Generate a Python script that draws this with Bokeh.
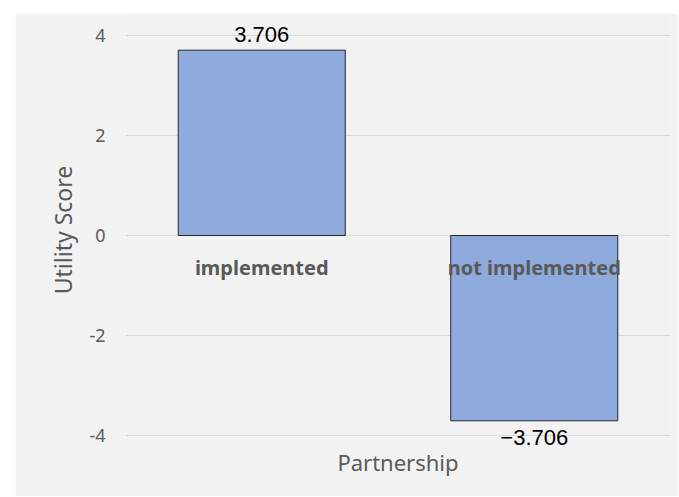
from bokeh.plotting import figure
from bokeh.models import ColumnDataSource, LabelSet, Range1d, FactorRange, FixedTicker
from bokeh.core.properties import value
from bokeh.embed import file_html
from bokeh.resources import INLINE

categories = ["implemented", "not implemented"]
utility = [3.706, -3.706]
value_labels = ["3.706", "\u22123.706"]
y_ticks = [-4, -2, 0, 2, 4]
y_tick_labels = ["-4", "-2", "0", "2", "4"]

GRAY = "#595959"
BG = "#f2f2f2"

p = figure(
    x_range=FactorRange(*categories),
    y_range=Range1d(-4.22, 4.44),
    width=663, height=483,
    output_backend="svg", toolbar_location=None,
    min_border_left=110, min_border_right=8,
    min_border_top=0, min_border_bottom=50,
)
p.margin = (13, 0, 0, 15)
p.background_fill_color = BG
p.border_fill_color = BG
p.outline_line_color = None

src = ColumnDataSource(dict(cat=categories, val=utility, lab=value_labels))
p.vbar(x="cat", top="val", bottom=0, width=0.613, source=src,
       fill_color="#8faadc", line_color="#262626", line_width=1)

# data labels
pos_idx = [i for i, v in enumerate(utility) if v >= 0]
neg_idx = [i for i, v in enumerate(utility) if v < 0]
pos_src = ColumnDataSource(dict(cat=[categories[i] for i in pos_idx],
                                val=[utility[i] for i in pos_idx],
                                lab=[value_labels[i] for i in pos_idx]))
neg_src = ColumnDataSource(dict(cat=[categories[i] for i in neg_idx],
                                val=[utility[i] for i in neg_idx],
                                lab=[value_labels[i] for i in neg_idx]))
common = dict(x="cat", y="val", text="lab", text_align="center",
              text_font=value("Liberation Sans"), text_font_size=value("22px"),
              text_color="#000000")
p.add_layout(LabelSet(source=pos_src, text_baseline="middle", y_offset=16, **common))
p.add_layout(LabelSet(source=neg_src, text_baseline="middle", y_offset=-17, **common))

# category labels next to zero axis
cat_src = ColumnDataSource(dict(cat=categories, zero=[0] * len(categories), lab=categories))
p.add_layout(LabelSet(source=cat_src, x="cat", y="zero", text="lab", text_align="center",
                      text_baseline="middle", y_offset=-32, text_font=value("Noto Sans"),
                      text_font_size=value("20px"), text_font_style="bold", text_color=GRAY))

# y axis
p.yaxis.ticker = FixedTicker(ticks=y_ticks)
p.yaxis.major_label_overrides = {t: l for t, l in zip(y_ticks, y_tick_labels)}
p.yaxis.axis_line_color = None
p.yaxis.major_tick_line_color = None
p.yaxis.minor_tick_line_color = None
p.yaxis.major_tick_in = 0
p.yaxis.major_tick_out = 0
p.yaxis.major_label_standoff = 20
p.yaxis.major_label_text_font = "Noto Sans"
p.yaxis.major_label_text_font_size = "18px"
p.yaxis.major_label_text_color = GRAY
p.yaxis.axis_label = "Utility Score"
p.yaxis.axis_label_text_font = "Noto Sans"
p.yaxis.axis_label_text_font_size = "23px"
p.yaxis.axis_label_text_font_style = "normal"
p.yaxis.axis_label_text_color = GRAY
p.yaxis.axis_label_standoff = 7

# x axis
p.xaxis.axis_line_color = None
p.xaxis.major_tick_line_color = None
p.xaxis.minor_tick_line_color = None
p.xaxis.major_tick_in = 0
p.xaxis.major_tick_out = 0
p.xaxis.major_label_text_font_size = "1px"
p.xaxis.major_label_text_alpha = 0
p.xaxis.major_label_standoff = 0
p.xaxis.axis_label = "Partnership"
p.xaxis.axis_label_text_font = "Noto Sans"
p.xaxis.axis_label_text_font_size = "22px"
p.xaxis.axis_label_text_font_style = "normal"
p.xaxis.axis_label_text_color = GRAY
p.xaxis.axis_label_standoff = 0

p.xgrid.grid_line_color = None
p.ygrid.grid_line_color = "#d9d9d9"
p.ygrid.grid_line_width = 1

open("out.html", "w").write(file_html(p, INLINE))
